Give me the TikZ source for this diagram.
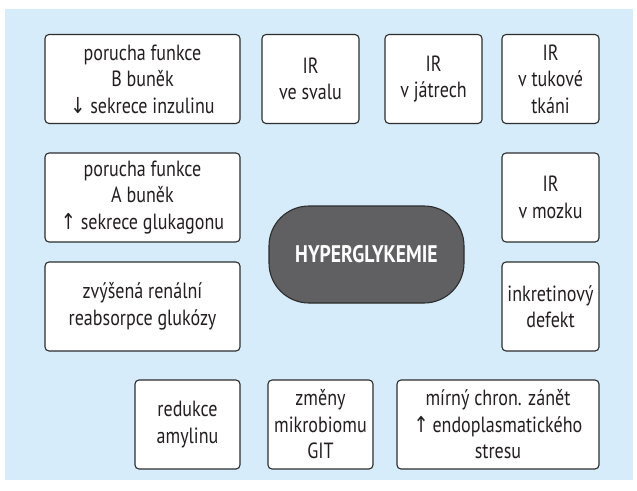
\documentclass[tikz,border=0pt]{standalone}
\usepackage{fontspec}
\setmainfont[FakeStretch=0.82]{PT Sans}
\newfontfamily\arrowfont[FakeStretch=0.82]{DejaVu Sans}
\definecolor{bgblue}{RGB}{214,236,250}
\definecolor{boxline}{RGB}{45,45,45}
\definecolor{txt}{RGB}{35,31,32}
\definecolor{darkfill}{RGB}{96,96,98}
\newcommand{\up}{{\arrowfont\char"2191}}
\newcommand{\down}{{\arrowfont\char"2193}}
\begin{document}
\begin{tikzpicture}[x=1pt,y=-1pt,
  cbox/.style={draw=boxline, line width=1.1pt, fill=white, rounded corners=4pt,
    inner sep=0pt, align=center, text=txt,
    font=\fontsize{22}{26.5}\selectfont, minimum height=89pt},
  hyper/.style={draw=boxline, line width=1.1pt, fill=darkfill, rounded corners=40pt,
    inner sep=0pt, text=white, font=\fontsize{24}{28}\selectfont\bfseries,
    minimum width=195pt, minimum height=97pt}]
\useasboundingbox (0,0) rectangle (637,490);
\fill[bgblue] (5,9) rectangle (633,480);
\node[cbox, minimum width=195pt] (b) at (142.5,79) {porucha funkce\\B buněk\\\down{} sekrece inzulinu};
\node[cbox, minimum width=97pt] (sval) at (310.5,79) {IR\\ve svalu};
\node[cbox, minimum width=97pt] (jatra) at (433.5,79) {IR\\v játrech};
\node[cbox, minimum width=97pt] (tuk) at (550.5,79) {IR\\v tukové\\tkáni};
\node[cbox, minimum width=195pt] (a) at (142.5,197.5) {porucha funkce\\A buněk\\\up{} sekrece glukagonu};
\node[cbox, minimum width=97pt] (mozek) at (550.5,197.5) {IR\\v mozku};
\node[hyper] (hyp) at (366.5,254.5) {HYPERGLYKEMIE};
\node[cbox, minimum width=195pt] (renal) at (142.5,306.5) {zvýšená renální\\reabsorpce glukózy};
\node[cbox, minimum width=97pt] (inkr) at (550.5,306.5) {inkretinový\\defekt};
\node[cbox, minimum width=105pt] (amyl) at (187.5,424.5) {redukce\\amylinu};
\node[cbox, minimum width=105pt] (mikro) at (320.5,424.5) {změny\\mikrobiomu\\GIT};
\node[cbox, minimum width=202pt] (zanet) at (498,424.5) {mírný chron. zánět\\\up{}\,endoplasmatického\\stresu};
\end{tikzpicture}
\end{document}
